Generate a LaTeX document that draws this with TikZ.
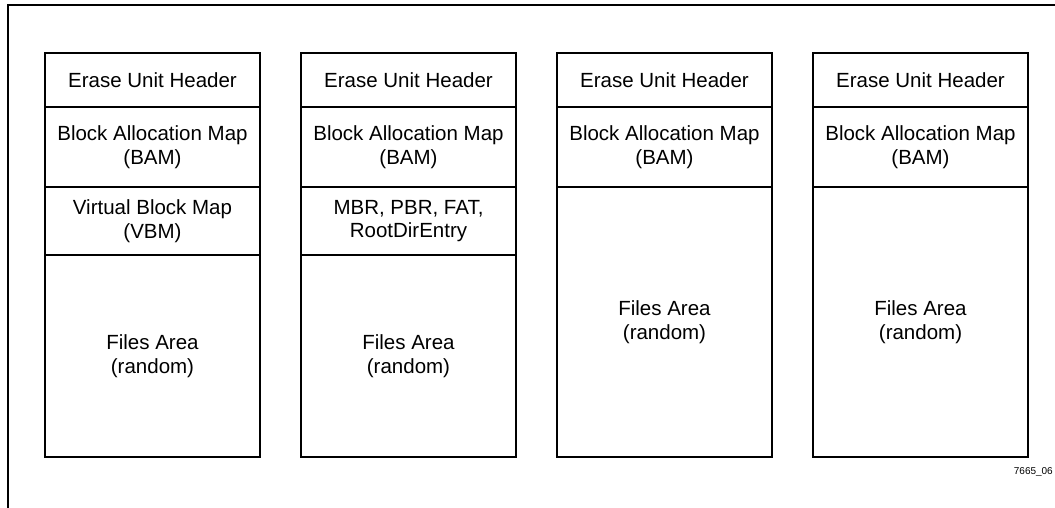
\documentclass[tikz,border=0pt]{standalone}
\usepackage{fontspec}
\setmainfont{Liberation Sans}
\usetikzlibrary{positioning}

\begin{document}
\begin{tikzpicture}[
    x=1pt, y=-1pt,
    font=\fontsize{20.5}{23.5}\selectfont,
    cell/.style={
        draw=black,
        rectangle,
        minimum width=215pt,
        inner sep=0pt,
        outer sep=0pt,
        align=center,
        line width=1.3pt
    },
    frame/.style={
        line width=1.7pt,
        draw=black
    },
    tag/.style={
        font=\fontsize{10}{12}\selectfont,
        inner sep=0pt,
        anchor=east
    }
]

\useasboundingbox (0,0) rectangle (1055,508);

% ============================================================
% Outer frame (only top and left edges on the page)
% ============================================================

\coordinate (fbl) at (8,510);
\coordinate (ftl) at (8,5);
\coordinate (ftr) at (1058,5);
\draw[frame] (fbl) -- (ftl) -- (ftr);

% ============================================================
% Common rows: header and BAM in every erase unit
% ============================================================

\foreach \i in {1,...,4} {
    \node[cell, minimum height=54pt] (head\i) at ({152.5+256*(\i-1)}, 80) {Erase Unit Header};
    \node[cell, minimum height=80pt, below=0pt of head\i] (bam\i) {Block Allocation Map\\(BAM)};
}

% ============================================================
% Unit 1: VBM
% ============================================================

\node[cell, minimum height=68pt, below=0pt of bam1] (vbm1) {Virtual Block Map\\(VBM)};
\node[cell, minimum height=202pt, below=0pt of vbm1] (files1) {Files Area\\(random)};

% ============================================================
% Unit 2: boot records
% ============================================================

\node[cell, minimum height=68pt, below=0pt of bam2] (boot2) {MBR, PBR, FAT,\\RootDirEntry};
\node[cell, minimum height=202pt, below=0pt of boot2] (files2) {Files Area\\(random)};

% ============================================================
% Units 3 and 4: files only
% ============================================================

\node[cell, minimum height=270pt, below=0pt of bam3] (files3) {Files Area\\(random)};
\node[cell, minimum height=270pt, below=0pt of bam4] (files4) {Files Area\\(random)};

\node[tag] (figid) at (1053,472) {7665\_06};

\end{tikzpicture}
\end{document}
